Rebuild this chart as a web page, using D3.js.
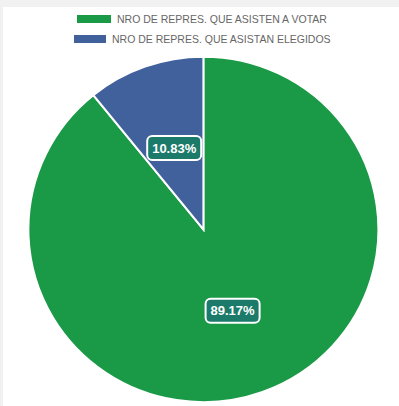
<!DOCTYPE html>
<html>
<head>
<meta charset="utf-8">
<script src="https://cdn.jsdelivr.net/npm/d3@7"></script>
<style>
  html, body { margin: 0; padding: 0; background: #f1f1f1; }
  svg { display: block; }
</style>
</head>
<body>
<svg id="chart" width="399" height="406"></svg>
<script>
// Representation shares (percent)
const categories = ["NRO DE REPRES. QUE ASISTEN A VOTAR", "NRO DE REPRES. QUE ASISTAN ELEGIDOS"];
const values = [89.17, 10.83];
const colors = ["#1a9946", "#41619d"];

const svg = d3.select("#chart");
const W = 399, H = 406;

// white panel
svg.append("rect").attr("x", 3).attr("y", 7).attr("width", W - 3).attr("height", H - 7).attr("fill", "#ffffff");

// legend
const legend = svg.append("g").attr("font-family", "Liberation Sans, Arial, sans-serif").attr("font-size", 10.5);
const legendRows = [
  { x: 77, y: 15, w: 34 },
  { x: 74, y: 35, w: 32 }
];
categories.forEach((c, i) => {
  const r = legendRows[i];
  legend.append("rect").attr("x", r.x).attr("y", r.y).attr("width", r.w).attr("height", 8).attr("fill", colors[i]);
  legend.append("text").attr("x", r.x + r.w + 6).attr("y", r.y + 8).attr("fill", "#666").text(c);
});

// pie (drawn slightly flattened vertically)
const cx = 203.4, cy = 229.4, R = 175, yScale = 0.987;
const pie = d3.pie().sort(null).value(d => d);
const arcs = pie(values);
const arc = d3.arc().innerRadius(0).outerRadius(R);
const labelArc = d3.arc().innerRadius(R / 2).outerRadius(R / 2);

const g = svg.append("g").attr("transform", `translate(${cx},${cy})`);
g.append("g").attr("transform", `scale(1,${yScale})`)
  .selectAll("path").data(arcs).join("path")
  .attr("d", arc)
  .attr("fill", (d, i) => colors[i])
  .attr("stroke", "#ffffff")
  .attr("stroke-width", 2);

// value labels
const lbl = g.selectAll("g.lbl").data(arcs).join("g").attr("class", "lbl")
  .attr("transform", d => { const [x, y] = labelArc.centroid(d); return `translate(${x},${y * yScale})`; });
lbl.append("rect")
  .attr("x", -27).attr("y", -12).attr("width", 54).attr("height", 24)
  .attr("rx", 5).attr("ry", 5)
  .attr("fill", "#1b7a6a").attr("stroke", "#ffffff").attr("stroke-width", 2);
lbl.append("text")
  .attr("text-anchor", "middle").attr("dy", "0.36em")
  .attr("font-family", "Liberation Sans, Arial, sans-serif").attr("font-weight", "bold").attr("font-size", 13)
  .attr("fill", "#ffffff")
  .text(d => d.data.toFixed(2) + "%");
</script>
</body>
</html>
